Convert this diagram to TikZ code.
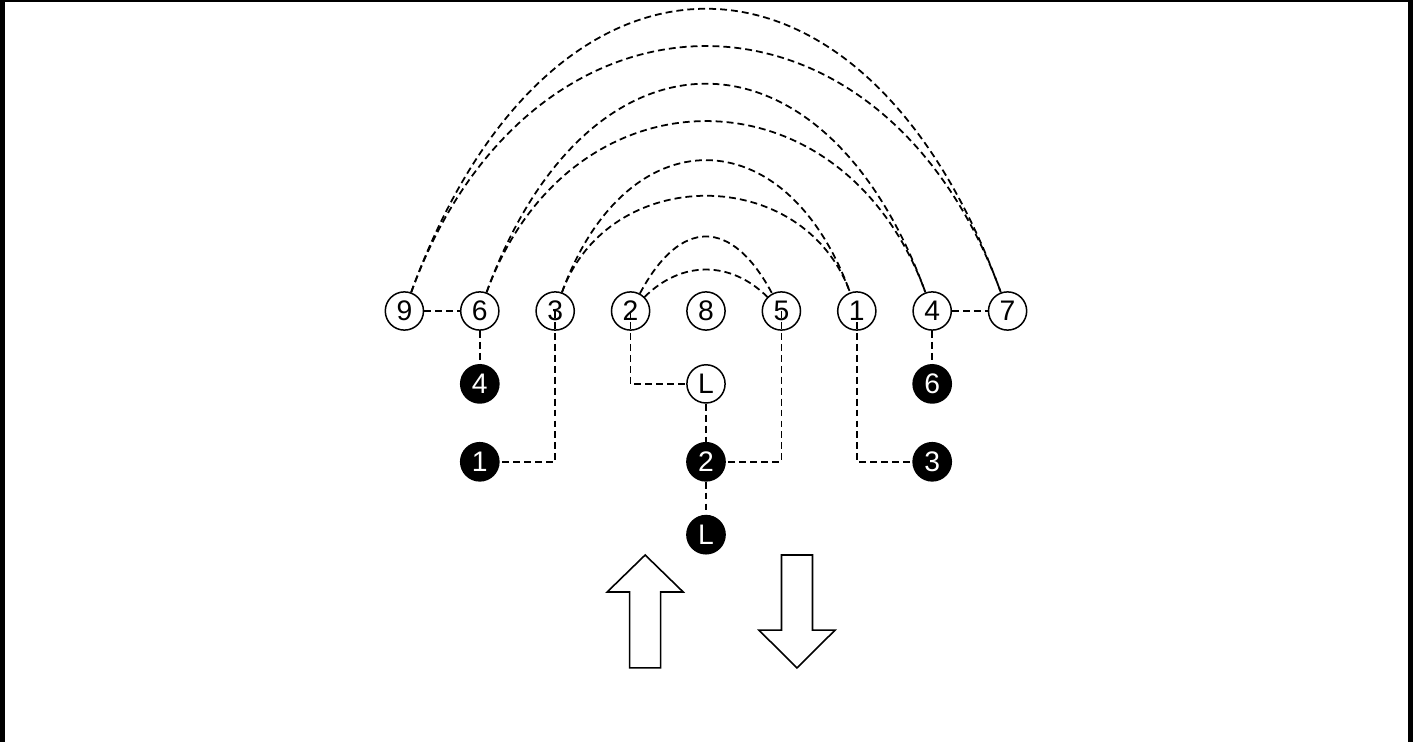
\documentclass[tikz,border=0pt]{standalone}
\usepackage{fontspec}
\setmainfont{Liberation Sans}
\usepackage{tikz}
\usetikzlibrary{arrows, positioning}

\begin{document}
\begin{tikzpicture}[
  wnode/.style={draw,circle,fill=white,line width=0.85pt,inner sep=0pt,minimum size=0.76cm,font=\fontsize{16}{19}\selectfont},
  bnode/.style={wnode,fill=black,text=white},
  link/.style={-,line width=1pt,dash pattern=on 3.9pt off 2.3pt},
  frame/.style={-,line width=#1,color=black},
  bigarrow/.style={draw,line width=0.9pt,fill=white,line join=miter}]
\useasboundingbox (-14.045,-8.574) rectangle (14.065,6.187);
% frame
\draw[frame=2.8pt] (-13.995,-8.574)--(-13.995,6.187);
\draw[frame=1.4pt] (-14.045,6.162)--(14.065,6.162);
\draw[frame=2.8pt] (14.015,-8.574)--(14.015,6.187);
% top row
\node[wnode] (w9) at (-6,0) {9};
\node[wnode] (w6) at (-4.5,0) {6};
\node[wnode] (w3) at (-3,0) {3};
\node[wnode] (w2) at (-1.5,0) {2};
\node[wnode] (w8) at (0,0) {8};
\node[wnode] (w5) at (1.5,0) {5};
\node[wnode] (w1) at (3,0) {1};
\node[wnode] (w4) at (4.5,0) {4};
\node[wnode] (w7) at (6,0) {7};
% lower rows
\node[bnode] (b4) at (-4.5,-1.45) {4};
\node[wnode] (wL) at (0,-1.45) {L};
\node[bnode] (b6) at (4.5,-1.45) {6};
\node[bnode] (b1) at (-4.5,-3) {1};
\node[bnode] (b2) at (0,-3) {2};
\node[bnode] (b3) at (4.5,-3) {3};
\node[bnode] (bL) at (0,-4.45) {L};
% straight links
\draw[link] (w9)--(w6);
\draw[link] (w4)--(w7);
\draw[link] (w6)--(b4);
\draw[link] (w4)--(b6);
\draw[link] (w3.center) |- (b1);
\draw[link] (w2.center) |- (wL);
\draw[link] (w5.center) |- (b2);
\draw[link] (w1.center) |- (b3);
\draw[link] (wL)--(b2);
\draw[link] (b2)--(bL);
% arcs
\draw[link] (w9) to[out=70,in=110,looseness=1.75] (w7);
\draw[link] (w9) to[out=70,in=110,looseness=1.52] (w7);
\draw[link] (w6) to[out=70,in=110,looseness=1.73] (w4);
\draw[link] (w6) to[out=70,in=110,looseness=1.42] (w4);
\draw[link] (w3) to[out=70,in=110,looseness=1.67] (w1);
\draw[link] (w3) to[out=70,in=110,looseness=1.22] (w1);
\draw[link] (w2) to[out=62,in=118,looseness=1.67] (w5);
\draw[link] (w2) to[out=45,in=135,looseness=1.08] (w5);
% block arrows
\draw[bigarrow] (-1.21,-4.854)--(-0.454,-5.59)--(-0.902,-5.59)--(-0.902,-7.10)
  --(-1.518,-7.10)--(-1.518,-5.59)--(-1.966,-5.59)--cycle;
\draw[bigarrow] (1.81,-7.10)--(2.566,-6.35)--(2.118,-6.35)--(2.118,-4.854)
  --(1.502,-4.854)--(1.502,-6.35)--(1.054,-6.35)--cycle;
\end{tikzpicture}
\end{document}
